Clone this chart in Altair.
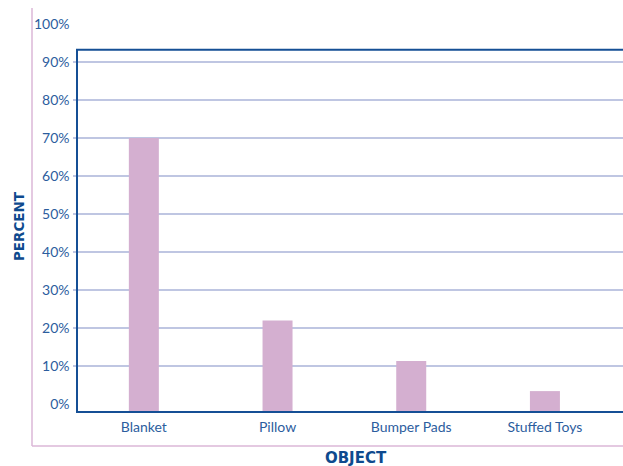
import altair as alt
import pandas as pd

# ---- data ----
CATEGORIES = ["Blanket", "Pillow", "Bumper Pads", "Stuffed Toys"]
PERCENTS = [70, 22, 11.3, 3.4]
Y_TICKS = [0, 10, 20, 30, 40, 50, 60, 70, 80, 90, 100]
GRID_VALUES = [10, 20, 30, 40, 50, 60, 70, 80, 90]
Y_MIN = -2.1      # frame bottom sits slightly below 0%
Y_MAX = 100
FRAME_TOP = 93.2  # frame top sits between 90% and 100%

# ---- styling ----
W, H = 546, 388
BAR_COLOR = "#d4afd0"
GRID_COLOR = "#aab3d9"
FRAME_COLOR = "#154f95"
PINK = "#dbb7d7"
LABEL_COLOR = "#2c5d9e"
TITLE_COLOR = "#0e4a8e"
FONT = "Lato"
TITLE_FONT = "DejaVu Sans"

bars_df = pd.DataFrame({"obj": CATEGORIES, "pct": PERCENTS, "base": [Y_MIN] * len(CATEGORIES)})
grid_df = pd.DataFrame({"g": GRID_VALUES})
frame_df = pd.DataFrame({"top": [FRAME_TOP], "bottom": [Y_MIN]})
one = pd.DataFrame({"a": [0]})

yscale = alt.Scale(domain=[Y_MIN, Y_MAX], nice=False, zero=False)
yaxis = alt.Axis(
    title="PERCENT",
    values=Y_TICKS,
    labelExpr="datum.value + '%'",
    labelOverlap=False,
    labelBound=False,
    labelFlush=False,
    domain=False,
    ticks=False,
    grid=False,
    labelPadding=8,
    labelFont=FONT,
    labelFontSize=14,
    labelColor=LABEL_COLOR,
    titleFont=TITLE_FONT,
    titleFontSize=13.5,
    titleFontWeight="bold",
    titleColor=TITLE_COLOR,
    titleX=-53.5,
    titleY=202,
    titleBaseline="alphabetic",
    titleAlign="center",
)

grid = alt.Chart(grid_df).mark_rule(color=GRID_COLOR, strokeWidth=1.5).encode(
    y=alt.Y("g:Q", scale=yscale, axis=yaxis, title="PERCENT"),
    x=alt.value(-4),
    x2=alt.value(W + 4),
)

bars = alt.Chart(bars_df).mark_bar(color=BAR_COLOR, size=30).encode(
    x=alt.X(
        "obj:N",
        sort=CATEGORIES,
        scale=alt.Scale(paddingInner=0, paddingOuter=0.042, align=0),
        axis=alt.Axis(
            title="OBJECT",
            labelAngle=0,
            labelOverlap=False,
            domain=False,
            ticks=False,
            labelPadding=8,
            labelFont=FONT,
            labelFontSize=14,
            labelColor=LABEL_COLOR,
            titleFont=TITLE_FONT,
            titleFontSize=15,
            titleFontWeight="bold",
            titleColor=TITLE_COLOR,
            titleX=278,
            titleY=50,
            titleBaseline="alphabetic",
            titleAlign="center",
        ),
    ),
    y=alt.Y("pct:Q", scale=yscale, axis=yaxis, title="PERCENT"),
    y2="base:Q",
)

frame = alt.Chart(frame_df).mark_rect(
    fill=None, stroke=FRAME_COLOR, strokeWidth=2
).encode(
    x=alt.value(0),
    x2=alt.value(W + 4),
    y=alt.Y("top:Q", scale=yscale, axis=yaxis, title="PERCENT"),
    y2="bottom:Q",
)

pink_left = alt.Chart(one).mark_rule(color=PINK, strokeWidth=1.5).encode(
    x=alt.value(-45),
    y=alt.value(-16),
    y2=alt.value(422),
)
pink_bottom = alt.Chart(one).mark_rule(color=PINK, strokeWidth=1.5).encode(
    x=alt.value(-45),
    x2=alt.value(W + 4),
    y=alt.value(422),
)

chart = (
    alt.layer(grid, bars, frame, pink_left, pink_bottom)
    .properties(
        width=W,
        height=H,
        autosize=alt.AutoSizeParams(type="none"),
        padding={"left": 77, "top": 24, "right": 0, "bottom": 54},
        background="white",
    )
    .configure_view(stroke=None)
)

chart.save("out.html", embed_options={"renderer": "svg", "actions": False})
